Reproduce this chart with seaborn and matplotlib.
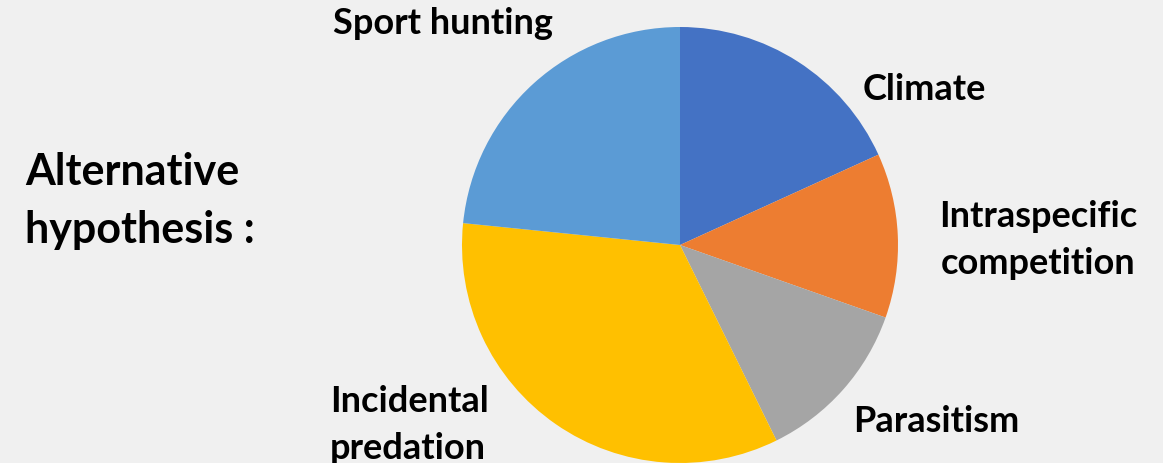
import matplotlib
matplotlib.use("Agg")
import matplotlib.pyplot as plt
import seaborn as sns

categories = ["Climate", "Intraspecific\ncompetition", "Parasitism",
              "Incidental\npredation", "Sport hunting"]
values = [18.2, 12.2, 12.3, 33.9, 23.4]
colors = ["#4472C4", "#ED7D31", "#A5A5A5", "#FFC000", "#5B9BD5"]
title_text = "Alternative\nhypothesis :"

sns.set_theme(style="white")
plt.rcParams["font.family"] = ["Lato", "DejaVu Sans"]

W, H = 1163, 463
BG = "#F0F0F0"
fig = plt.figure(figsize=(W / 100, H / 100), dpi=100, facecolor=BG)

cx, cy, r = 680, 245, 218
ax = fig.add_axes([(cx - r) / W, (H - cy - r) / H, 2 * r / W, 2 * r / H])
ax.set_facecolor(BG)
ax.pie(values, colors=colors, startangle=90, counterclock=False,
       radius=1.0, wedgeprops=dict(linewidth=0))
ax.set_xlim(-1, 1)
ax.set_ylim(-1, 1)
ax.set_aspect("equal")
ax.axis("off")

def px(x, y):
    return x / W, 1 - y / H

label_pos = [
    (924, 89, "center"),
    (1038, 240, "center"),
    (936, 421, "center"),
    (330, 425, "left"),
    (443, 24, "center"),
]
fs = 26
for cat, (x, y, ha) in zip(categories, label_pos):
    fig.text(*px(x, y), cat, ha=ha, va="center", fontsize=fs,
             fontweight="bold", color="black", linespacing=1.55)

fig.text(*px(25, 201), title_text, ha="left", va="center", fontsize=31,
         fontweight="bold", color="black", linespacing=1.55)

fig.savefig("out.png", dpi=100, facecolor=BG)
